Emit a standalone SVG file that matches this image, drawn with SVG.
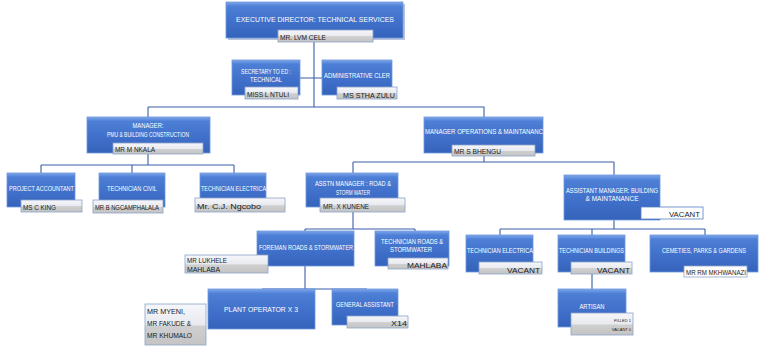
<svg xmlns="http://www.w3.org/2000/svg" width="768" height="351" viewBox="0 0 768 351">
<defs>
<linearGradient id="gb" x1="0" y1="0" x2="0" y2="1">
<stop offset="0" stop-color="#7ea6ea"/>
<stop offset="0.12" stop-color="#4d7fd6"/>
<stop offset="0.6" stop-color="#3f6fc9"/>
<stop offset="1" stop-color="#3563bb"/>
</linearGradient>
<linearGradient id="gn" x1="0" y1="0" x2="0" y2="1">
<stop offset="0" stop-color="#f6f7fb"/>
<stop offset="0.5" stop-color="#e8eaef"/>
<stop offset="0.55" stop-color="#cfcfcf"/>
<stop offset="1" stop-color="#c4c4c4"/>
</linearGradient>
</defs>
<style>
.b{fill:url(#gb);stroke:#6f98dc;stroke-width:0.8}
.s{fill:#b8c3dc}
.n{fill:url(#gn);stroke:#8da3c8;stroke-width:0.8}
.w{fill:#ffffff;font-family:"Liberation Sans",Arial,sans-serif;font-size:7px}
.k{fill:#1a1a1a;font-family:"Liberation Sans",Arial,sans-serif;font-size:8px}
.c{text-anchor:middle}
.e{text-anchor:end}
.l{fill:none;stroke:#3a5fa8;stroke-width:1.1}
</style>
<rect width="768" height="351" fill="#ffffff"/>
<g id="connectors">
<path class="l" d="M314 42V107M300 78H322M148 107H484V117M148 107V117"/>
<path class="l" d="M148 154V165M41 165H234M41 165V173M132 165V173M234 165V173"/>
<path class="l" d="M484 156V162M353 162H614M353 162V173M614 162V175"/>
<path class="l" d="M353 212V229M305 229H415M305 229V231M415 229V231"/>
<path class="l" d="M305 266V289M262 289H367"/>
<path class="l" d="M614 220V229M500 229H705M500 229V235M592 229V235M705 229V235M592 274V289"/>
</g>
<g id="exec"><rect class="s" x="228" y="4" width="177" height="36"/><rect class="b" x="226" y="2" width="177" height="36"/>
<text class="w c" x="315" y="22" font-size="10" textLength="158" lengthAdjust="spacingAndGlyphs">EXECUTIVE DIRECTOR: TECHNICAL SERVICES</text>
<rect class="n" x="278" y="30" width="95" height="12"/><text class="k" x="280" y="39.5" font-size="8.2" textLength="46" lengthAdjust="spacingAndGlyphs">MR. LVM CELE</text></g>
<g id="secretary"><rect class="b" x="232" y="60" width="68" height="35"/>
<text class="w c" x="266" y="74" textLength="50" lengthAdjust="spacingAndGlyphs">SECRETARY TO ED :</text><text class="w c" x="266" y="82" textLength="32" lengthAdjust="spacingAndGlyphs">TECHNICAL</text>
<rect class="n" x="245" y="87" width="53" height="12"/><text class="k" x="247" y="96.5" textLength="42" lengthAdjust="spacingAndGlyphs">MISS L NTULI</text></g>
<g id="admin"><rect class="b" x="322" y="60" width="70" height="35"/>
<text class="w" x="324" y="78" textLength="66" lengthAdjust="spacingAndGlyphs">ADMINISTRATIVE  CLER</text>
<rect class="n" x="337" y="87" width="60" height="12"/><text class="k" x="343" y="97.5" font-size="9.5" textLength="52" lengthAdjust="spacingAndGlyphs">MS STHA ZULU</text></g>
<g id="pmu"><rect class="b" x="87" y="117" width="123" height="36"/>
<text class="w c" x="148" y="128" textLength="31" lengthAdjust="spacingAndGlyphs">MANAGER:</text><text class="w c" x="148" y="137" textLength="82" lengthAdjust="spacingAndGlyphs">PMU &amp; BUILDING CONSTRUCTION</text>
<rect class="n" x="113" y="143" width="90" height="11"/><text class="k" x="115" y="151.5" textLength="40" lengthAdjust="spacingAndGlyphs">MR M NKALA</text></g>
<g id="ops"><rect class="b" x="424" y="117" width="119" height="36"/>
<text class="w" x="425" y="134" font-size="7.2" textLength="118" lengthAdjust="spacingAndGlyphs">MANAGER OPERATIONS &amp; MAINTANANC</text>
<rect class="n" x="452" y="145" width="83" height="11"/><text class="k" x="454" y="153.5" textLength="47" lengthAdjust="spacingAndGlyphs">MR S BHENGU</text></g>
<g id="accountant"><rect class="b" x="7" y="173" width="68" height="34"/>
<text class="w" x="9" y="191" textLength="65" lengthAdjust="spacingAndGlyphs">PROJECT ACCOUNTANT</text>
<rect class="n" x="21" y="200" width="61" height="12"/><text class="k" x="23" y="209.5" textLength="33" lengthAdjust="spacingAndGlyphs">MS C KING</text></g>
<g id="techcivil"><rect class="b" x="99" y="173" width="66" height="34"/>
<text class="w c" x="132" y="191" textLength="50" lengthAdjust="spacingAndGlyphs">TECHNICIAN CIVIL</text>
<rect class="n" x="93" y="200" width="70" height="13"/><text class="k" x="95" y="210" font-size="6.8" textLength="64" lengthAdjust="spacingAndGlyphs">MR B NGCAMPHALALA</text></g>
<g id="techelec1"><rect class="b" x="200" y="173" width="66" height="34"/>
<text class="w" x="201" y="191" textLength="65" lengthAdjust="spacingAndGlyphs">TECHNICIAN ELECTRICA</text>
<rect class="n" x="195" y="198" width="90" height="14"/><text class="k" x="197" y="209" font-size="11" textLength="64" lengthAdjust="spacingAndGlyphs">Mr. C.J. Ngcobo</text></g>
<g id="asstroad"><rect class="b" x="306" y="173" width="92" height="34"/>
<text class="w c" x="353" y="186" textLength="76" lengthAdjust="spacingAndGlyphs">ASSTN MANAGER : ROAD &amp;</text><text class="w c" x="353" y="195" textLength="34" lengthAdjust="spacingAndGlyphs">STORM WATER</text>
<rect class="n" x="320" y="198" width="85" height="14"/><text class="k" x="323" y="208.5" textLength="46" lengthAdjust="spacingAndGlyphs">MR. X KUNENE</text></g>
<g id="asstbuild"><rect class="b" x="564" y="175" width="96" height="45"/>
<text class="w c" x="612" y="193" textLength="92" lengthAdjust="spacingAndGlyphs">ASSISTANT MANAGER: BUILDING</text><text class="w c" x="612" y="201" textLength="53" lengthAdjust="spacingAndGlyphs">&amp; MAINTANANCE</text>
<rect x="641" y="207" width="62" height="12" fill="#ffffff" stroke="#5a7fc0" stroke-width="0.8"/><text class="k" x="669" y="217" font-size="10" textLength="31" lengthAdjust="spacingAndGlyphs">VACANT</text></g>
<g id="foreman"><rect class="b" x="257" y="231" width="97" height="35"/>
<text class="w" x="259" y="250" font-size="7.2" textLength="94" lengthAdjust="spacingAndGlyphs">FOREMAN ROADS &amp; STORMWATER</text>
<rect class="n" x="185" y="255" width="83" height="18"/><text class="k" x="187" y="263" textLength="40" lengthAdjust="spacingAndGlyphs">MR LUKHELE</text><text class="k" x="187" y="272" textLength="33" lengthAdjust="spacingAndGlyphs">MAHLABA</text></g>
<g id="techroads"><rect class="b" x="375" y="231" width="74" height="35"/>
<text class="w c" x="412" y="244" textLength="62" lengthAdjust="spacingAndGlyphs">TECHNICIAN ROADS &amp;</text><text class="w c" x="411" y="252" textLength="42" lengthAdjust="spacingAndGlyphs">STORMWATER</text>
<rect class="n" x="388" y="258" width="60" height="11"/><text class="k e" x="447" y="268" font-size="10" textLength="40" lengthAdjust="spacingAndGlyphs">MAHLABA</text></g>
<g id="plantop"><rect class="b" x="208" y="289" width="107" height="40"/>
<text class="w c" x="261" y="312" font-size="10.5" textLength="74" lengthAdjust="spacingAndGlyphs">PLANT OPERATOR X 3</text>
<rect class="n" x="145" y="304" width="61" height="41"/><text class="k" x="147" y="314" textLength="38" lengthAdjust="spacingAndGlyphs">MR MYENI,</text><text class="k" x="147" y="326" textLength="44" lengthAdjust="spacingAndGlyphs">MR FAKUDE &amp;</text><text class="k" x="147" y="338" textLength="45" lengthAdjust="spacingAndGlyphs">MR KHUMALO</text></g>
<g id="genassist"><rect class="b" x="332" y="289" width="66" height="36"/>
<text class="w c" x="365" y="307" textLength="58" lengthAdjust="spacingAndGlyphs">GENERAL ASSISTANT</text>
<rect class="n" x="347" y="316" width="61" height="12"/><text class="k e" x="407" y="326" font-size="9.5" textLength="16" lengthAdjust="spacingAndGlyphs">X14</text></g>
<g id="techelec2"><rect class="b" x="466" y="235" width="67" height="37"/>
<text class="w" x="467" y="253" textLength="66" lengthAdjust="spacingAndGlyphs">TECHNICIAN ELECTRICA</text>
<rect class="n" x="479" y="262" width="63" height="12"/><text class="k e" x="540" y="272.5" font-size="10" textLength="33" lengthAdjust="spacingAndGlyphs">VACANT</text></g>
<g id="techbuild"><rect class="b" x="558" y="235" width="67" height="37"/>
<text class="w" x="559" y="253" textLength="65" lengthAdjust="spacingAndGlyphs">TECHNICIAN BUILDINGS</text>
<rect class="n" x="571" y="262" width="61" height="12"/><text class="k e" x="630" y="272.5" font-size="10" textLength="33" lengthAdjust="spacingAndGlyphs">VACANT</text></g>
<g id="cemeteries"><rect class="b" x="650" y="235" width="108" height="37"/>
<text class="w c" x="704" y="253" textLength="84" lengthAdjust="spacingAndGlyphs">CEMETIES, PARKS &amp; GARDENS</text>
<rect x="684" y="266" width="63" height="11" fill="#ffffff" stroke="#8da3c8" stroke-width="0.8"/><text class="k" x="686" y="275" font-size="6" textLength="60" lengthAdjust="spacingAndGlyphs">MR RM MKHWANAZI</text></g>
<g id="artisan"><rect class="b" x="558" y="289" width="68" height="38"/>
<text class="w c" x="592" y="309" font-size="7.5" textLength="25" lengthAdjust="spacingAndGlyphs">ARTISAN</text>
<rect class="n" x="571" y="313" width="62" height="22"/>
<g transform="translate(631 322) scale(0.5)"><text class="k e" x="0" y="0" font-size="7">FILLED 1</text></g>
<g transform="translate(631 331) scale(0.5)"><text class="k e" x="0" y="0" font-size="7">VACANT      0</text></g></g>
</svg>
